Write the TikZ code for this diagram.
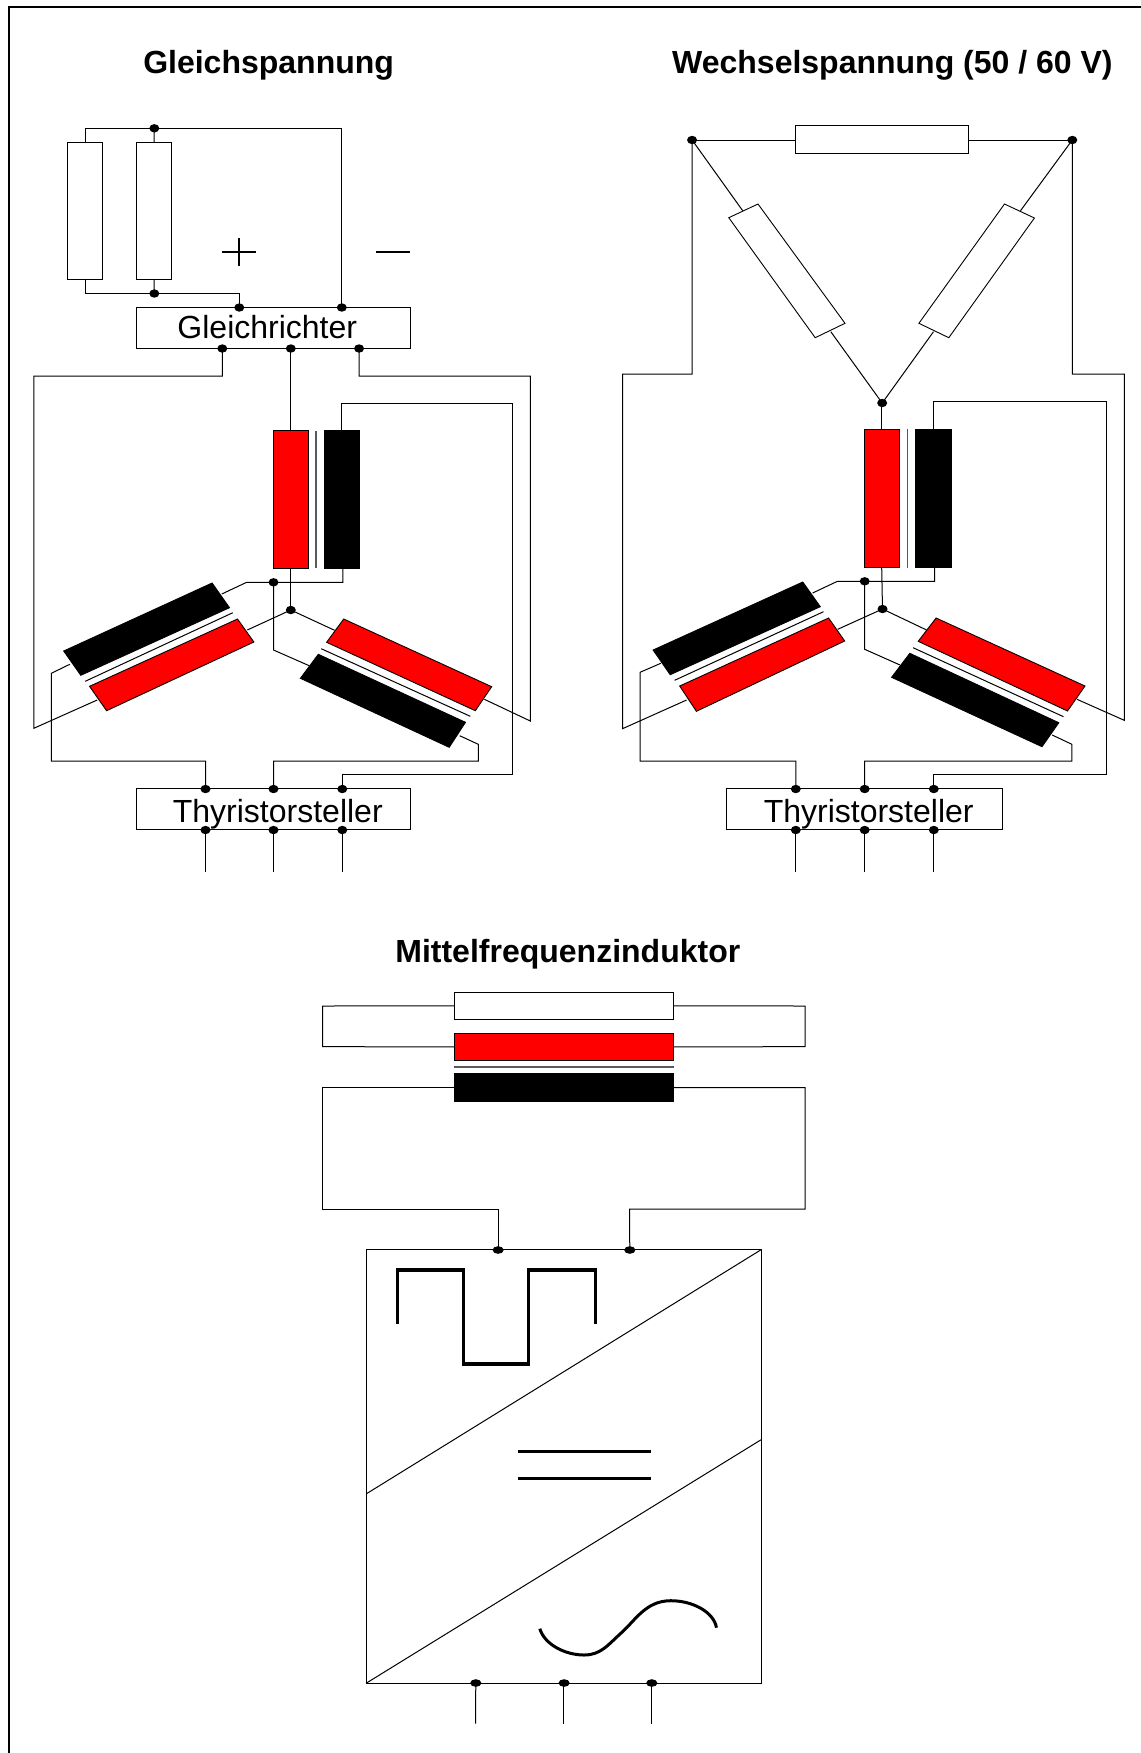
\documentclass[tikz,border=0pt]{standalone}
\usepackage{fontspec}
\usetikzlibrary{shapes.geometric}
\setmainfont{Liberation Sans}
\tikzset{
  wire/.style={draw=black,line width=0.5pt,line join=miter},
  ovalpin/.style={ellipse,fill=black,inner sep=0pt,minimum width=5pt,minimum height=4.2pt},
  pinwide/.style={ellipse,fill=black,inner sep=0pt,minimum width=5.6pt,minimum height=3.8pt},
  plainbox/.style 2 args={draw=black,fill=white,line width=0.5pt,inner sep=0pt,outer sep=0pt,minimum width=#1*0.5pt,minimum height=#2*0.5pt},
  redbox/.style 2 args={plainbox={#1}{#2},fill=red},
  blackbox/.style 2 args={plainbox={#1}{#2},fill=black},
  rotwhite/.style={draw=black,fill=white,line width=0.45pt},
  rotred/.style={draw=black,fill=red,line width=0.45pt},
  rotblack/.style={draw=black,fill=black,line width=0.45pt},
  core/.style={draw=black!65,line width=0.7pt},
  thincore/.style={draw=black,line width=0.5pt},
  title/.style={font=\fontsize{16}{16}\selectfont\bfseries,inner sep=0pt,anchor=base},
  boxlabel/.style={font=\fontsize{16}{16}\selectfont,inner sep=0pt,anchor=base},
  symbol/.style={draw=black,line width=1.6pt,line join=miter},
  thinsym/.style={draw=black,line width=1pt}
}
\begin{document}
\begin{tikzpicture}[x=0.5pt,y=-0.5pt]
\useasboundingbox (0,0) rectangle (1141,1753);
\fill[white] (0,0) rectangle (1141,1753);
% frame
\coordinate (fA) at (8.7,1753);
\coordinate (fB) at (8.7,7);
\coordinate (fC) at (1141,7);
\draw[line width=0.9pt] (fA) -- (fB) -- (fC);
\begin{scope}[shift={(0.8,0)}]
% titles
\node[title] (t1) at (267.8,73.5) {Gleichspannung};
\node[title] (t2) at (891.6,73.5) {Wechselspannung (50 / 60 V)};
\node[title] (t3) at (567,962.9) {Mittelfrequenzinduktor};

%%% LEFT
\node[plainbox={35}{137}] (r1) at (84.5,210.5) {};
\node[plainbox={34.5}{137}] (r2) at (153.3,210.5) {};
\node[plainbox={273.5}{41}] (gr) at (272.75,327.8) {};
\node[boxlabel] (grt) at (266.5,338.9) {Gleichrichter};
\node[plainbox={273.5}{40.6}] (th) at (272.75,809) {};
\node[boxlabel] (tht) at (277,822.9) {Thyristorsteller};
\node[redbox={34.9}{137.6}] (vr) at (289.85,499.5) {};
\node[blackbox={34.9}{137.6}] (vb) at (340.75,499.5) {};
\coordinate (vc1) at (315,430.7);
\coordinate (vc2) at (315,568.3);
\draw[core] (vc1) -- (vc2);
% rotated coils
\draw[rotblack] (211.3,583) -- (228.7,607.7) -- (80,675.3) -- (62.9,651) -- cycle;
\coordinate (lc1) at (232,612.7); \coordinate (lc2) at (84.4,681.3);
\draw[thincore] (lc1) -- (lc2);
\draw[rotred] (236.7,619) -- (253.1,642) -- (105.8,710.7) -- (88.7,686.3) -- cycle;
\draw[rotred] (342.9,619) -- (490.9,686.7) -- (474.5,710.7) -- (325.8,642.3) -- cycle;
\coordinate (rc1) at (320.4,648.7); \coordinate (rc2) at (469.5,716.3);
\draw[thincore] (rc1) -- (rc2);
\draw[rotblack] (317.5,654.3) -- (464.7,722.3) -- (448.4,747.3) -- (299.6,678.3) -- cycle;
% pins
\node[ovalpin] (a1) at (153.5,128.3) {};
\node[ovalpin] (a2) at (153.5,293.5) {};
\node[ovalpin] (a3) at (238.5,307.5) {};
\node[ovalpin] (a4) at (341,307.5) {};
\node[ovalpin] (a5) at (221.5,348.5) {};
\node[ovalpin] (a6) at (290,348.5) {};
\node[ovalpin] (a7) at (358.3,348.5) {};
\node[ovalpin] (a8) at (272.7,582.3) {};
\node[ovalpin] (a9) at (290,610) {};
\node[ovalpin] (b1) at (204.7,789) {};
\node[ovalpin] (b2) at (272.7,789) {};
\node[ovalpin] (b3) at (341.5,789) {};
\node[ovalpin] (b4) at (204.7,830) {};
\node[ovalpin] (b5) at (272.7,830) {};
\node[ovalpin] (b6) at (341.5,830) {};
% free wire ends
\coordinate (e1) at (204.7,871.7);
\coordinate (e2) at (272.7,871.7);
\coordinate (e3) at (341.5,871.7);
\draw[wire] (84.5,142) |- (a1.center);
\draw[wire] (a1.center) -- (153.3,142);
\draw[wire] (a1.center) -| (a4.center);
\draw[wire] (84.5,279) |- (a2.center);
\draw[wire] (a2.center) -- (153.3,279);
\draw[wire] (a2.center) -| (a3.center);
\draw[wire] (a5.center) -- (221.5,376) -- (33,376) -- (33,728.3) -- (96.4,700);
\draw[wire] (a7.center) -- (358.3,376) -- (529.5,376) -- (529.5,721) -- (483.6,699.3);
\draw[wire] (a6.center) -- (vr.north -| a6.center);
\draw[wire] (341,430.7) -- (341,403.3) -- (512,403.3) -- (512,774.3) -- (341.5,774.3) -- (b3.center);
\draw[wire] (290,568.3) -- (a9.center);
\draw[wire] (342,568.3) -- (342,582.3) -- (245.8,582.3) -- (221,594);
\draw[wire] (a8.center) -- (272.7,650) -- (308.4,665.7);
\draw[wire] (246.5,630) -- (a9.center) -- (333.8,630.3);
\draw[wire] (69,664.3) -- (50.5,673.3) -- (50.5,761) -- (204.7,761) -- (b1.center);
\draw[wire] (458.9,735.7) -- (477.5,744.3) -- (477.5,761) -- (272.7,761) -- (b2.center);
\draw[wire] (b4.center) -- (e1);
\draw[wire] (b5.center) -- (e2);
\draw[wire] (b6.center) -- (e3);
% plus / minus
\coordinate (pl) at (221,251.7); \coordinate (pr) at (255,251.7);
\coordinate (pt) at (238.3,238.3); \coordinate (pb) at (238.3,266);
\coordinate (ml) at (375,251.7); \coordinate (mr) at (409.5,251.7);
\draw[thinsym] (pl) -- (pr);
\draw[thinsym] (pt) -- (pb);
\draw[thinsym] (ml) -- (mr);

%%% RIGHT
\node[plainbox={173}{28}] (rt) at (881.2,139.3) {};
\draw[rotwhite] (757.2,204) -- (844.2,323.3) -- (814.4,337.7) -- (728,217.7) -- cycle;
\draw[rotwhite] (1003.7,204) -- (1033.6,218) -- (948,337.7) -- (918.1,323.3) -- cycle;
\node[plainbox={276}{40.6}] (th2) at (863.9,809) {};
\node[boxlabel] (tht2) at (867.9,822.9) {Thyristorsteller};
\node[redbox={34.6}{138.7}] (vr2) at (881.2,498.35) {};
\node[blackbox={35.3}{138.7}] (vb2) at (932.55,498.35) {};
\coordinate (vd1) at (906.9,429);
\coordinate (vd2) at (906.9,567.7);
\draw[core] (vd1) -- (vd2);
\draw[rotblack] (802,582) -- (819.5,606.7) -- (669.4,674.7) -- (652.3,650) -- cycle;
\coordinate (ld1) at (822.7,611.7); \coordinate (ld2) at (673.8,680.3);
\draw[thincore] (ld1) -- (ld2);
\draw[rotred] (827.8,618) -- (843.9,641) -- (695.6,711.3) -- (678.9,686) -- cycle;
\draw[rotred] (935.3,618) -- (1084.2,686) -- (1066.7,711) -- (917.4,641.3) -- cycle;
\coordinate (rd1) at (912.3,647.7); \coordinate (rd2) at (1062.7,716.7);
\draw[thincore] (rd1) -- (rd2);
\draw[rotblack] (909,653.3) -- (1058,722.7) -- (1041.2,746.7) -- (890.8,677.3) -- cycle;
\node[ovalpin] (c1) at (691.3,140) {};
\node[ovalpin] (c2) at (1071.5,140) {};
\node[ovalpin] (c3) at (881.4,403) {};
\node[ovalpin] (c4) at (863.9,581.3) {};
\node[ovalpin] (c5) at (881.7,609) {};
\node[ovalpin] (d1) at (795,789) {};
\node[ovalpin] (d2) at (863.9,789) {};
\node[ovalpin] (d3) at (933,789) {};
\node[ovalpin] (d4) at (795,830) {};
\node[ovalpin] (d5) at (863.9,830) {};
\node[ovalpin] (d6) at (933,830) {};
\coordinate (g1) at (795,871.7);
\coordinate (g2) at (863.9,871.7);
\coordinate (g3) at (933,871.7);
\draw[wire] (c1.center) -- (rt.west |- c1.center);
\draw[wire] (c2.center) -- (rt.east |- c2.center);
\draw[wire] (c1.center) -- (741.9,210.7);
\draw[wire] (830,331.7) -- (c3.center);
\draw[wire] (c2.center) -- (1019.7,210.7);
\draw[wire] (932.7,331.7) -- (c3.center);
\draw[wire] (c1.center) -- (691.3,374) -- (621.7,374) -- (621.7,728.7) -- (685.8,700);
\draw[wire] (c2.center) -- (1071.5,374) -- (1123.5,374) -- (1123.5,720.3) -- (1076.2,699.3);
\draw[wire] (880.6,403) -- (880.6,429);
\draw[wire] (933,429) -- (933,401.7) -- (1105.3,401.7) -- (1105.3,774.3) -- (933,774.3) -- (d3.center);
\draw[wire] (880.9,567.7) -- (c5.center);
\draw[wire] (933.8,567.7) -- (933.8,581.3) -- (836.6,581.3) -- (811.8,593);
\draw[wire] (c4.center) -- (863.9,649.3) -- (899.2,665);
\draw[wire] (836.9,629.3) -- (c5.center) -- (925.8,630);
\draw[wire] (660,663.3) -- (639.2,672.3) -- (639.2,761) -- (795,761) -- (d1.center);
\draw[wire] (1051.4,735) -- (1071.1,744.3) -- (1071.1,761) -- (863.9,761) -- (d2.center);
\draw[wire] (d4.center) -- (g1);
\draw[wire] (d5.center) -- (g2);
\draw[wire] (d6.center) -- (g3);

%%% BOTTOM
\node[plainbox={219.4}{27}] (mw) at (563,1005.8) {};
\node[redbox={219.4}{27}] (mr1) at (563,1046.8) {};
\node[blackbox={219.4}{28}] (mb) at (563,1087.7) {};
\coordinate (mc1) at (453.3,1066.7); \coordinate (mc2) at (672.7,1066.7);
\draw[core,line width=0.8pt] (mc1) -- (mc2);
\node[plainbox={394.6}{433.3},fill=none] (conv) at (563,1466.35) {};
\node[pinwide] (k1) at (497.3,1250) {};
\node[pinwide] (k2) at (629,1250) {};
\node[pinwide] (k3) at (475,1683) {};
\node[pinwide] (k4) at (563.3,1683) {};
\node[pinwide] (k5) at (651,1683) {};
\coordinate (h1) at (474.7,1723.7);
\coordinate (h2) at (562.3,1723.7);
\coordinate (h3) at (650.3,1723.7);
\draw[wire] (mw.west) -- (321.7,1006) -- (321.7,1046.7) -- (mr1.west);
\draw[wire] (mw.east) -- (804.3,1006) -- (804.3,1046.7) -- (mr1.east);
\draw[wire] (453.3,1087.7) -- (321.7,1087.7) -- (321.7,1209) -- (497.3,1209) -- (k1.center);
\draw[wire] (672.7,1087.7) -- (804.3,1087.7) -- (804.3,1209) -- (628.7,1209) -- (k2.center);
\draw[wire] (k3.center) -- (h1);
\draw[wire] (k4.center) -- (562.3,1683) -- (h2);
\draw[wire] (k5.center) -- (650.3,1683) -- (h3);
\coordinate (x1) at (760.3,1249.7); \coordinate (x2) at (365.7,1493.7);
\coordinate (x3) at (365.7,1683); \coordinate (x4) at (760.3,1439.7);
\draw[wire] (x1) -- (x2);
\draw[wire] (x3) -- (x4);
\coordinate (q1) at (396.5,1324); \coordinate (q2) at (396.5,1270);
\coordinate (q3) at (462.8,1270); \coordinate (q4) at (462.8,1364);
\coordinate (q5) at (527.6,1364); \coordinate (q6) at (527.6,1270);
\coordinate (q7) at (594.7,1270); \coordinate (q8) at (594.7,1324);
\draw[symbol] (q1) -- (q2) -- (q3) -- (q4) -- (q5) -- (q6) -- (q7) -- (q8);
\coordinate (eq1) at (517.3,1451.3); \coordinate (eq2) at (650,1451.3);
\coordinate (eq3) at (517.3,1478.3); \coordinate (eq4) at (650,1478.3);
\draw[symbol] (eq1) -- (eq2);
\draw[symbol] (eq3) -- (eq4);
\coordinate (s0) at (539,1628.7);
\coordinate (s1) at (583.3,1655);
\coordinate (s2) at (620,1633.3);
\coordinate (s3) at (670,1600.7);
\coordinate (s4) at (715.7,1627.7);
\draw[symbol,line width=1.5pt] (s0) .. controls (544,1645) and (565,1655) .. (s1)
  .. controls (600,1655) and (607,1645) .. (s2)
  .. controls (635,1620) and (645,1600.7) .. (s3)
  .. controls (692,1600.7) and (713,1612) .. (s4);
\end{scope}
\end{tikzpicture}
\end{document}
